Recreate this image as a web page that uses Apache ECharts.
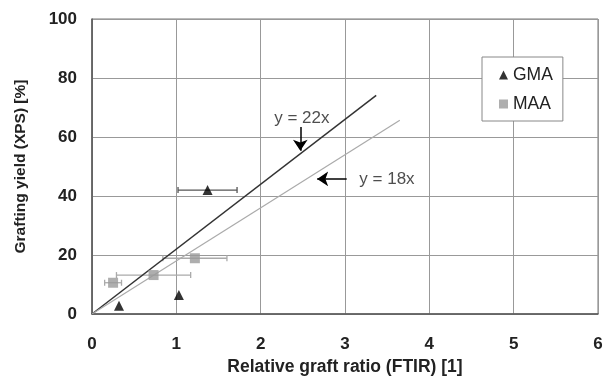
<!DOCTYPE html>
<html><head><meta charset="utf-8">
<script src="https://cdn.jsdelivr.net/npm/echarts@6/dist/echarts.min.js"></script>
<style>html,body{margin:0;padding:0;background:#fff}#c{width:613px;height:377px}</style>
</head><body><div id="c"></div>
<script>
const xTicks = [0,1,2,3,4,5,6];
const yTicks = [0,20,40,60,80,100];
const gmaX = [1.37, 1.03, 0.32];
const gmaY = [42, 6.4, 2.8];
const gmaErr = [0.35, 0, 0];
const maaX = [1.22, 0.73, 0.25];
const maaY = [18.9, 13.2, 10.6];
const maaErr = [0.38, 0.44, 0.10];
const fit22 = [[0,0],[3.37,74.1]];
const fit18 = [[0,0],[3.65,65.7]];
const arrow22 = [[2.47,63.4],[2.47,55.3]];
const arrow18 = [[3.02,45.8],[2.67,45.8]];
const label22 = [2.16, 66.2, 'y = 22x'];
const label18 = [3.17, 45.6, 'y = 18x'];

const font = '"Liberation Sans", Arial, sans-serif';
const chart = echarts.init(document.getElementById('c'));

function errData(xs, ys, es){ return xs.map((x,i)=>[x-es[i], x+es[i], ys[i]]); }
function errSeries(data, color){
  return {
    type:'custom', data, z:1, silent:true,
    renderItem(params, api){
      const lo = api.coord([api.value(0), api.value(2)]);
      const hi = api.coord([api.value(1), api.value(2)]);
      if (hi[0]-lo[0] < 1) return null;
      const s = {stroke:color, lineWidth:1.3};
      return {type:'group', children:[
        {type:'line', shape:{x1:lo[0],y1:lo[1],x2:hi[0],y2:hi[1]}, style:s},
        {type:'line', shape:{x1:lo[0],y1:lo[1]-3,x2:lo[0],y2:lo[1]+3}, style:s},
        {type:'line', shape:{x1:hi[0],y1:hi[1]-3,x2:hi[0],y2:hi[1]+3}, style:s}
      ]};
    },
    encode:{x:[0,1], y:2}
  };
}

chart.setOption({
  animation:false,
  backgroundColor:'#fff',
  grid:{left:92, top:19, right:15, bottom:63, show:true, borderColor:'#777', borderWidth:1,
    outerBoundsMode:'none', containLabel:false},
  xAxis:{type:'value', min:0, max:6, interval:1,
    name:'Relative graft ratio (FTIR) [1]', nameLocation:'middle', nameGap:44,
    nameTextStyle:{fontFamily:font, fontWeight:'bold', fontSize:17.5, color:'#222'},
    axisLine:{show:true, lineStyle:{color:'#555', width:1.5}}, axisTick:{show:false},
    axisLabel:{fontFamily:font, fontWeight:'bold', fontSize:17, color:'#222', margin:22,
      formatter:v=>xTicks.includes(v)?String(v):''},
    splitLine:{show:true, lineStyle:{color:'#999', width:1}}},
  yAxis:{type:'value', min:0, max:100, interval:20,
    name:'Grafting yield (XPS) [%]', nameLocation:'middle', nameGap:63, nameRotate:90,
    nameTextStyle:{fontFamily:font, fontWeight:'bold', fontSize:15.5, color:'#222'},
    axisLine:{show:true, lineStyle:{color:'#555', width:1.5}}, axisTick:{show:false},
    axisLabel:{fontFamily:font, fontWeight:'bold', fontSize:17, color:'#222', margin:15,
      formatter:v=>yTicks.includes(v)?String(v):''},
    splitLine:{show:true, lineStyle:{color:'#999', width:1}}},
  legend:{
    data:[{name:'GMA', icon:'triangle'},{name:'MAA', icon:'rect'}],
    orient:'vertical', left:482, top:57, width:88, height:61,
    padding:[9,10,8,17], itemGap:11, itemWidth:9, itemHeight:9,
    borderColor:'#888', borderWidth:1, backgroundColor:'#fff',
    textStyle:{fontFamily:font, fontSize:17.5, color:'#222'}
  },
  series:[
    {type:'line', data:fit22, showSymbol:false, silent:true, z:2,
      lineStyle:{color:'#333', width:1.5}},
    {type:'line', data:fit18, showSymbol:false, silent:true, z:2,
      lineStyle:{color:'#aaa', width:1.2}},
    errSeries(errData(gmaX,gmaY,gmaErr), '#555'),
    errSeries(errData(maaX,maaY,maaErr), '#aaa'),
    {name:'GMA', type:'scatter', symbol:'triangle', symbolSize:10, z:5,
      itemStyle:{color:'#000'}, data:gmaX.map((x,i)=>[x,gmaY[i]])},
    {name:'MAA', type:'scatter', symbol:'rect', symbolSize:10, z:5,
      itemStyle:{color:'#9a9a9a'}, data:maaX.map((x,i)=>[x,maaY[i]])},
    {type:'lines', coordinateSystem:'cartesian2d', silent:true, z:6,
      symbol:['none','arrow'], symbolSize:[0,11],
      lineStyle:{color:'#000', width:1.5, opacity:1},
      data:[{coords:arrow22},{coords:arrow18}]},
    {type:'scatter', symbolSize:0, silent:true, z:7,
      data:[label22, label18],
      label:{show:true, formatter:p=>p.value[2], fontFamily:font, fontSize:17, color:'#222',
        position:'inside', align:'left'}}
  ]
});
</script></body></html>
